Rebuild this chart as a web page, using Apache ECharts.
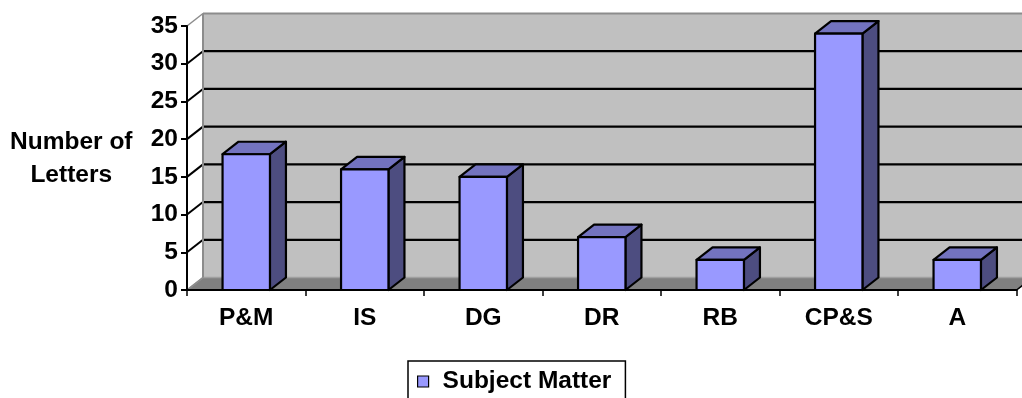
<!DOCTYPE html>
<html>
<head>
<meta charset="utf-8">
<title>Subject Matter</title>
<script src="https://cdn.jsdelivr.net/npm/echarts@6/dist/echarts.min.js"></script>
<style>
  html, body { margin: 0; padding: 0; background: #ffffff; }
  #chart { width: 1022px; height: 398px; }
</style>
</head>
<body>
<div id="chart"></div>
<script>
// Letters per subject-matter category
const categories = ['P&M', 'IS', 'DG', 'DR', 'RB', 'CP&S', 'A'];
const letterCounts = [18, 16, 15, 7, 4, 34, 4];
const yTicks = [0, 5, 10, 15, 20, 25, 30, 35];
const seriesName = 'Subject Matter';
const axisTitle = ['Number of', 'Letters'];

// 3D look: depth offset of the back wall and of the bar boxes
const DEPTH_X = 16;
const DEPTH_Y = 12.5;
const BAR_RATIO = 0.4;

const FRONT = '#9999ff';
const TOP = '#7373bf';
const SIDE = '#4d4d80';
const WALL = '#c0c0c0';
const FLOOR = '#808080';
const EDGE = '#8c8c8c';
const FONT = "'Liberation Sans', Arial, Helvetica, sans-serif";

const barData = categories.map((c, i) => [i, letterCounts[i]]);

// Back wall, floor, wall grid lines and the short diagonals at each tick
function renderBackdrop(params, api) {
  const cs = params.coordSys;
  const left = cs.x, right = cs.x + cs.width;
  const top = cs.y, bottom = cs.y + cs.height;
  const dx = DEPTH_X, dy = DEPTH_Y;
  const children = [];
  children.push({
    type: 'rect',
    shape: { x: left + dx, y: top - dy, width: cs.width + dx, height: cs.height },
    style: { fill: WALL }
  });
  children.push({
    type: 'polygon',
    shape: { points: [[left, bottom], [right, bottom], [right + dx, bottom - dy], [left + dx, bottom - dy]] },
    style: { fill: FLOOR, stroke: '#a0a0a0', lineWidth: 1.5 }
  });
  yTicks.forEach(v => {
    const p = api.coord([0, v]);
    const y = p[1];
    const inner = v !== yTicks[0] && v !== yTicks[yTicks.length - 1];
    if (v !== yTicks[0]) {
      children.push({
        type: 'line',
        shape: { x1: left + dx, y1: y - dy, x2: right + dx + 20, y2: y - dy },
        style: { stroke: inner ? '#000' : EDGE, lineWidth: inner ? 2.2 : 2 }
      });
    }
    children.push({
      type: 'line',
      shape: { x1: left, y1: y, x2: left + dx, y2: y - dy },
      style: { stroke: inner ? '#000' : EDGE, lineWidth: inner ? 2 : 1.5 }
    });
  });
  children.push({
    type: 'line',
    shape: { x1: left + dx, y1: top - dy, x2: left + dx, y2: bottom - dy },
    style: { stroke: EDGE, lineWidth: 2 }
  });
  children.push({
    type: 'line',
    shape: { x1: right, y1: bottom, x2: right + dx, y2: bottom - dy },
    style: { stroke: '#000', lineWidth: 1.5 }
  });
  return { type: 'group', children: children };
}

// Box-shaped bar: front face, right side face and top face
function renderBar(params, api) {
  const idx = api.value(0);
  const val = api.value(1);
  const base = api.coord([idx, 0]);
  const head = api.coord([idx, val]);
  const w = api.size([1, 0])[0] * BAR_RATIO;
  const x0 = base[0] - w / 2, x1 = base[0] + w / 2;
  const y0 = base[1], y1 = head[1];
  const dx = DEPTH_X, dy = DEPTH_Y;
  const line = { stroke: '#000', lineWidth: 2.2, lineJoin: 'round' };
  return {
    type: 'group',
    children: [
      { type: 'polygon', shape: { points: [[x1, y1], [x1 + dx, y1 - dy], [x1 + dx, y0 - dy], [x1, y0]] },
        style: Object.assign({ fill: SIDE }, line) },
      { type: 'polygon', shape: { points: [[x0, y1], [x0 + dx, y1 - dy], [x1 + dx, y1 - dy], [x1, y1]] },
        style: Object.assign({ fill: TOP }, line) },
      { type: 'polygon', shape: { points: [[x0, y1], [x1, y1], [x1, y0], [x0, y0]] },
        style: Object.assign({ fill: FRONT }, line) }
    ]
  };
}

const chart = echarts.init(document.getElementById('chart'));
chart.setOption({
  animation: false,
  backgroundColor: '#ffffff',
  grid: { left: 187, right: 5.5, top: 26, bottom: 108, containLabel: false },
  xAxis: {
    type: 'category',
    data: categories,
    z: 5,
    axisLine: { show: true, lineStyle: { color: '#000', width: 2 } },
    axisTick: { show: true, length: 6, interval: 0, lineStyle: { color: '#000', width: 1.5 } },
    axisLabel: { interval: 0, margin: 16, color: '#000', fontFamily: FONT, fontWeight: 'bold', fontSize: 24.5 },
    splitLine: { show: false }
  },
  yAxis: {
    type: 'value',
    min: 0,
    max: 35,
    interval: 5,
    z: 5,
    axisLine: { show: true, lineStyle: { color: '#000', width: 2 } },
    axisTick: { show: true, length: 6, lineStyle: { color: '#000', width: 2 } },
    axisLabel: { margin: 9, color: '#000', fontFamily: FONT, fontWeight: 'bold', fontSize: 24.5 },
    splitLine: { show: false }
  },
  legend: {
    data: [{ name: seriesName, icon: 'rect', itemStyle: { color: FRONT, borderColor: '#000', borderWidth: 1.2 } }],
    left: 408,
    top: 361,
    padding: [8, 14, 12, 9],
    itemWidth: 11,
    itemHeight: 11,
    borderColor: '#000',
    borderWidth: 1.5,
    borderRadius: 0,
    textStyle: { color: '#000', fontFamily: FONT, fontWeight: 'bold', fontSize: 24.5, padding: [0, 0, 0, 9] }
  },
  graphic: [{
    type: 'text',
    left: 10,
    top: 126,
    style: {
      text: axisTitle.join('\n'),
      fill: '#000',
      font: 'bold 24.5px ' + FONT,
      textAlign: 'center',
      lineHeight: 33
    }
  }],
  series: [
    {
      type: 'custom',
      name: 'backdrop',
      z: 1,
      silent: true,
      data: [[0, 0]],
      renderItem: renderBackdrop,
      encode: { x: 0, y: 1 }
    },
    {
      type: 'custom',
      name: seriesName,
      z: 3,
      itemStyle: { color: FRONT },
      data: barData,
      renderItem: renderBar,
      encode: { x: 0, y: 1 }
    }
  ]
});
</script>
</body>
</html>
